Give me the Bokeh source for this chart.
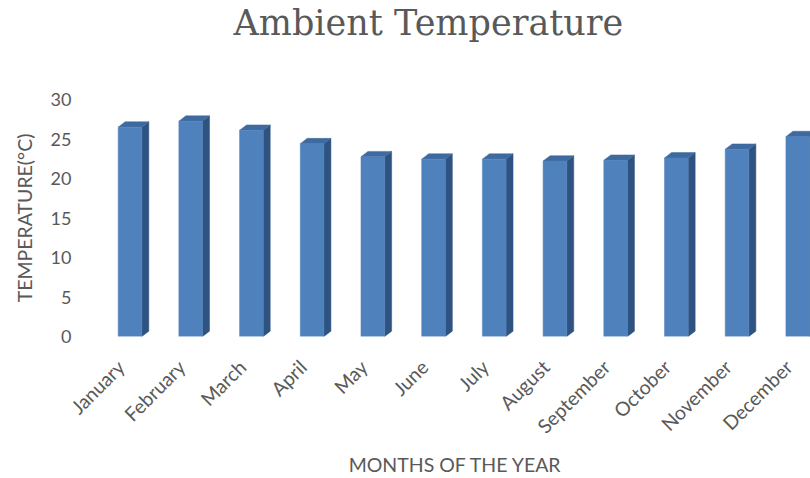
from bokeh.plotting import figure
from bokeh.models import ColumnDataSource, FixedTicker, Range1d, Title
from bokeh.embed import file_html
from bokeh.resources import INLINE
import math

# Monthly mean ambient temperature (°C)
months = ["January", "February", "March", "April", "May", "June",
          "July", "August", "September", "October", "November", "December"]
temps = [26.5, 27.25, 26.1, 24.4, 22.75, 22.45,
         22.45, 22.2, 22.3, 22.6, 23.7, 25.3]
y_ticks = [0, 5, 10, 15, 20, 25, 30]
title_text = "Ambient Temperature"

FRONT = "#4F81BD"
SIDE = "#2F5381"
TOP = "#3E6A9F"
GREY = "#595959"

# bar geometry (data units): front face width, depth offsets for the 3-D look
half_w = 0.195
dx = 0.115
dy = 0.68

xs = list(range(len(months)))

front = ColumnDataSource(dict(x=xs, top=temps))

side_xs, side_ys, cap_xs, cap_ys = [], [], [], []
for x, v in zip(xs, temps):
    r = x + half_w
    side_xs.append([r, r, r + dx, r + dx])
    side_ys.append([0, v, v + dy, dy])
    l = x - half_w
    cap_xs.append([l, r, r + dx, l + dx])
    cap_ys.append([v, v, v + dy, v + dy])

p = figure(width=810, height=478, output_backend="svg", toolbar_location=None,
           x_range=Range1d(-0.486, 11.21), y_range=Range1d(0, 30),
           min_border_left=100, min_border_right=0,
           min_border_top=97, min_border_bottom=141)

# heading on the outer edge, with an empty spacer title between it and the frame
p.title = Title(text=title_text, align="left", offset=133,
                text_font="DejaVu Serif", text_font_size="35px",
                text_font_style="normal", text_color=GREY, standoff=0)
p.add_layout(Title(text=" ", text_font_size="1px", standoff=54), "above")

p.patches(side_xs, side_ys, fill_color=SIDE, line_color=SIDE, line_width=0.5)
p.patches(cap_xs, cap_ys, fill_color=TOP, line_color=TOP, line_width=0.5)
p.vbar(x="x", top="top", bottom=0, width=2 * half_w, source=front,
       fill_color=FRONT, line_color=FRONT, line_width=0.5)

p.outline_line_color = None
p.grid.visible = False
p.background_fill_color = "white"
p.border_fill_color = "white"

# month labels sit slightly left of each bar centre
label_pos = [i - 0.15 for i in xs]

xa = p.xaxis[0]
xa.ticker = FixedTicker(ticks=label_pos)
xa.major_label_overrides = {pos: m for pos, m in zip(label_pos, months)}
xa.major_label_orientation = math.pi / 4
xa.axis_line_color = None
xa.major_tick_line_color = None
xa.minor_tick_line_color = None
xa.major_label_standoff = 21
xa.major_label_text_font = "Lato"
xa.major_label_text_font_size = "19.5px"
xa.major_label_text_color = GREY
xa.axis_label = "MONTHS OF THE YEAR"
xa.axis_label_text_font = "Lato"
xa.axis_label_text_font_size = "19.5px"
xa.axis_label_text_font_style = "normal"
xa.axis_label_text_color = GREY
xa.axis_label_standoff = 4

ya = p.yaxis[0]
ya.ticker = FixedTicker(ticks=y_ticks)
ya.axis_line_color = None
ya.major_tick_line_color = None
ya.minor_tick_line_color = None
ya.major_label_standoff = 23
ya.major_label_text_font = "Lato"
ya.major_label_text_font_size = "18px"
ya.major_label_text_color = GREY
ya.axis_label = "TEMPERATURE(°C)"
ya.axis_label_text_font = "Lato"
ya.axis_label_text_font_size = "19.5px"
ya.axis_label_text_font_style = "normal"
ya.axis_label_text_color = GREY
ya.axis_label_standoff = 12

open("out.html", "w").write(file_html(p, INLINE))
